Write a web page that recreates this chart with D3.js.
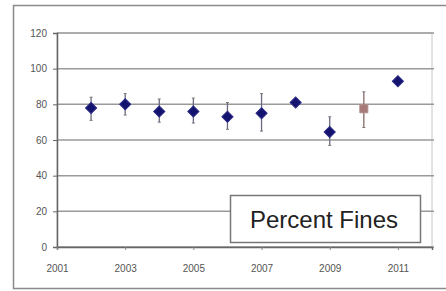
<!DOCTYPE html>
<html>
<head>
  <meta charset="utf-8">
  <script src="https://d3js.org/d3.v7.min.js"></script>
  <style>
    body { margin: 0; background: #fff; }
    text { font-family: "Liberation Sans", Arial, sans-serif; }
  </style>
</head>
<body>
  <script>
    // data
    var years  = [2002, 2003, 2004, 2005, 2006, 2007, 2008, 2009, 2010, 2011];
    var fines  = [78, 80, 76, 76, 73, 75, 81, 64.5, 77.5, 93];
    var errLo  = [71, 74, 70, 69.5, 66, 65, 79, 57, 67, 91.5];
    var errHi  = [84, 86, 83, 83.5, 81, 86, 83, 73, 87, 94.5];
    var highlight = [false, false, false, false, false, false, false, false, true, false];
    var yTicks = [0, 20, 40, 60, 80, 100, 120];
    var xTicks = [2001, 2003, 2005, 2007, 2009, 2011];

    var width = 446, height = 291;
    var svg = d3.select("body").append("svg")
      .attr("width", width)
      .attr("height", height);

    // outer chart frame
    svg.append("rect")
      .attr("x", 13.5).attr("y", 5.5)
      .attr("width", 440).attr("height", 283)
      .attr("fill", "#fff").attr("stroke", "#8a8a8a").attr("stroke-width", 1.5);

    var x = d3.scaleLinear().domain([2001, 2012]).range([57, 432]);
    var y = d3.scaleLinear().domain([0, 120]).range([247, 33]);

    // plot area border
    svg.append("rect")
      .attr("x", x(2001)).attr("y", y(120))
      .attr("width", x(2012) - x(2001)).attr("height", y(0) - y(120))
      .attr("fill", "none").attr("stroke", "#c8c8c8");

    // gridlines
    svg.selectAll("line.grid").data(yTicks).enter().append("line")
      .attr("class", "grid")
      .attr("x1", x(2001)).attr("x2", x(2012) + 2)
      .attr("y1", function(d) { return y(d); })
      .attr("y2", function(d) { return y(d); })
      .attr("stroke", "#9a9a9a").attr("stroke-width", 1.5);

    var yAxis = svg.append("g")
      .attr("transform", "translate(" + x(2001) + ",0)")
      .call(d3.axisLeft(y).tickValues(yTicks).tickSize(4).tickPadding(6));
    yAxis.select(".domain").attr("stroke", "#666").attr("stroke-width", 1.5);
    yAxis.selectAll(".tick line").attr("stroke", "#666");
    yAxis.selectAll("text").attr("fill", "#555").style("font-size", "10px");

    var xAxis = svg.append("g")
      .attr("transform", "translate(0," + y(0) + ")")
      .call(d3.axisBottom(x).tickValues(xTicks).tickFormat(d3.format("d")).tickSize(3).tickPadding(15));
    xAxis.select(".domain").attr("stroke", "#666").attr("stroke-width", 1.5);
    xAxis.selectAll(".tick line").attr("stroke", "#888");
    xAxis.selectAll("text").attr("fill", "#555").style("font-size", "10px");

    var pts = years.map(function(yr, i) {
      return { yr: yr, v: fines[i], lo: errLo[i], hi: errHi[i], hl: highlight[i] };
    });

    // error bars
    svg.selectAll("line.err").data(pts).enter().append("line")
      .attr("class", "err")
      .attr("x1", function(d) { return x(d.yr); })
      .attr("x2", function(d) { return x(d.yr); })
      .attr("y1", function(d) { return y(d.lo); })
      .attr("y2", function(d) { return y(d.hi); })
      .attr("stroke", function(d) { return d.hl ? "#8a6a6a" : "#6a6a80"; })
      .attr("stroke-width", 1.3);

    svg.selectAll("g.cap").data(pts).enter().append("g")
      .attr("class", "cap")
      .each(function(d) {
        var g = d3.select(this);
        [d.lo, d.hi].forEach(function(v) {
          g.append("line")
            .attr("x1", x(d.yr) - 1.5).attr("x2", x(d.yr) + 1.5)
            .attr("y1", y(v)).attr("y2", y(v))
            .attr("stroke", "#777").attr("stroke-width", 1);
        });
      });

    // markers: square diamonds, one highlighted square
    svg.selectAll("path.pt").data(pts).enter().append("path")
      .attr("class", "pt")
      .attr("transform", function(d) {
        return "translate(" + x(d.yr) + "," + y(d.v) + ")" + (d.hl ? "" : " rotate(45)");
      })
      .attr("d", function(d) {
        return d.hl ? d3.symbol(d3.symbolSquare, 64)() : d3.symbol(d3.symbolSquare, 62)();
      })
      .attr("fill", function(d) { return d.hl ? "#a57a78" : "#14146e"; })
      .attr("stroke", function(d) { return d.hl ? "#b08c8a" : "#2a2a8a"; })
      .attr("stroke-width", 1);

    // label box
    svg.append("rect")
      .attr("x", 230.5).attr("y", 195.5)
      .attr("width", 190).attr("height", 47)
      .attr("fill", "#fff").attr("stroke", "#777").attr("stroke-width", 1.5);

    svg.append("text")
      .attr("x", 324).attr("y", 228)
      .attr("text-anchor", "middle")
      .attr("fill", "#222")
      .style("font-size", "24px")
      .text("Percent Fines");
  </script>
</body>
</html>
